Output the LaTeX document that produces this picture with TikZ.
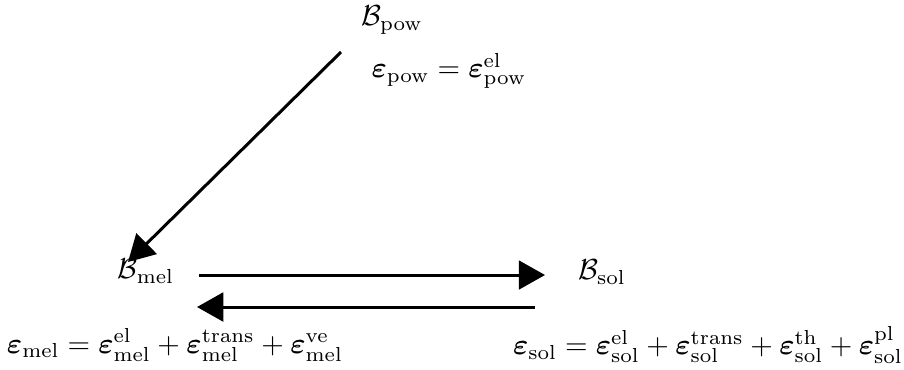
\documentclass[tikz,border=0pt]{standalone}
\usepackage{amsmath,amssymb,bm}
\usetikzlibrary{arrows.meta}
\newcommand{\bigtx}[1]{\scalebox{1.16}{#1}}
\begin{document}
\begin{tikzpicture}[x=0.4pt,y=-0.4pt,
  lbl/.style={inner sep=0pt,anchor=center},
  conn/.style={line width=1.2pt,-{Triangle[length=10.5pt,width=11.5pt]}}]
\useasboundingbox (0,0) rectangle (904,369);
\node[lbl] (Bpow) at (392,20) {\bigtx{$\mathcal{B}_{\mathrm{pow}}$}};
\node[lbl] (epow) at (449,71) {\bigtx{$\bm{\varepsilon}_{\mathrm{pow}}=\bm{\varepsilon}_{\mathrm{pow}}^{\mathrm{el}}$}};
\node[lbl] (Bmel) at (146,271) {\bigtx{$\mathcal{B}_{\mathrm{mel}}$}};
\node[lbl] (Bsol) at (602,272) {\bigtx{$\mathcal{B}_{\mathrm{sol}}$}};
\node[lbl] (emel) at (175,345) {\bigtx{$\bm{\varepsilon}_{\mathrm{mel}}=\bm{\varepsilon}_{\mathrm{mel}}^{\mathrm{el}}+\bm{\varepsilon}_{\mathrm{mel}}^{\mathrm{trans}}+\bm{\varepsilon}_{\mathrm{mel}}^{\mathrm{ve}}$}};
\node[lbl] (esol) at (708,345) {\bigtx{$\bm{\varepsilon}_{\mathrm{sol}}=\bm{\varepsilon}_{\mathrm{sol}}^{\mathrm{el}}+\bm{\varepsilon}_{\mathrm{sol}}^{\mathrm{trans}}+\bm{\varepsilon}_{\mathrm{sol}}^{\mathrm{th}}+\bm{\varepsilon}_{\mathrm{sol}}^{\mathrm{pl}}$}};
\coordinate (d1) at (341,52);
\coordinate (d2) at (128,262);
\coordinate (h1) at (199,275);
\coordinate (h2) at (545,275);
\coordinate (h3) at (535,307);
\coordinate (h4) at (197,307);
\draw[conn] (d1) -- (d2);
\draw[conn] (h1) -- (h2);
\draw[conn] (h3) -- (h4);
\end{tikzpicture}
\end{document}
